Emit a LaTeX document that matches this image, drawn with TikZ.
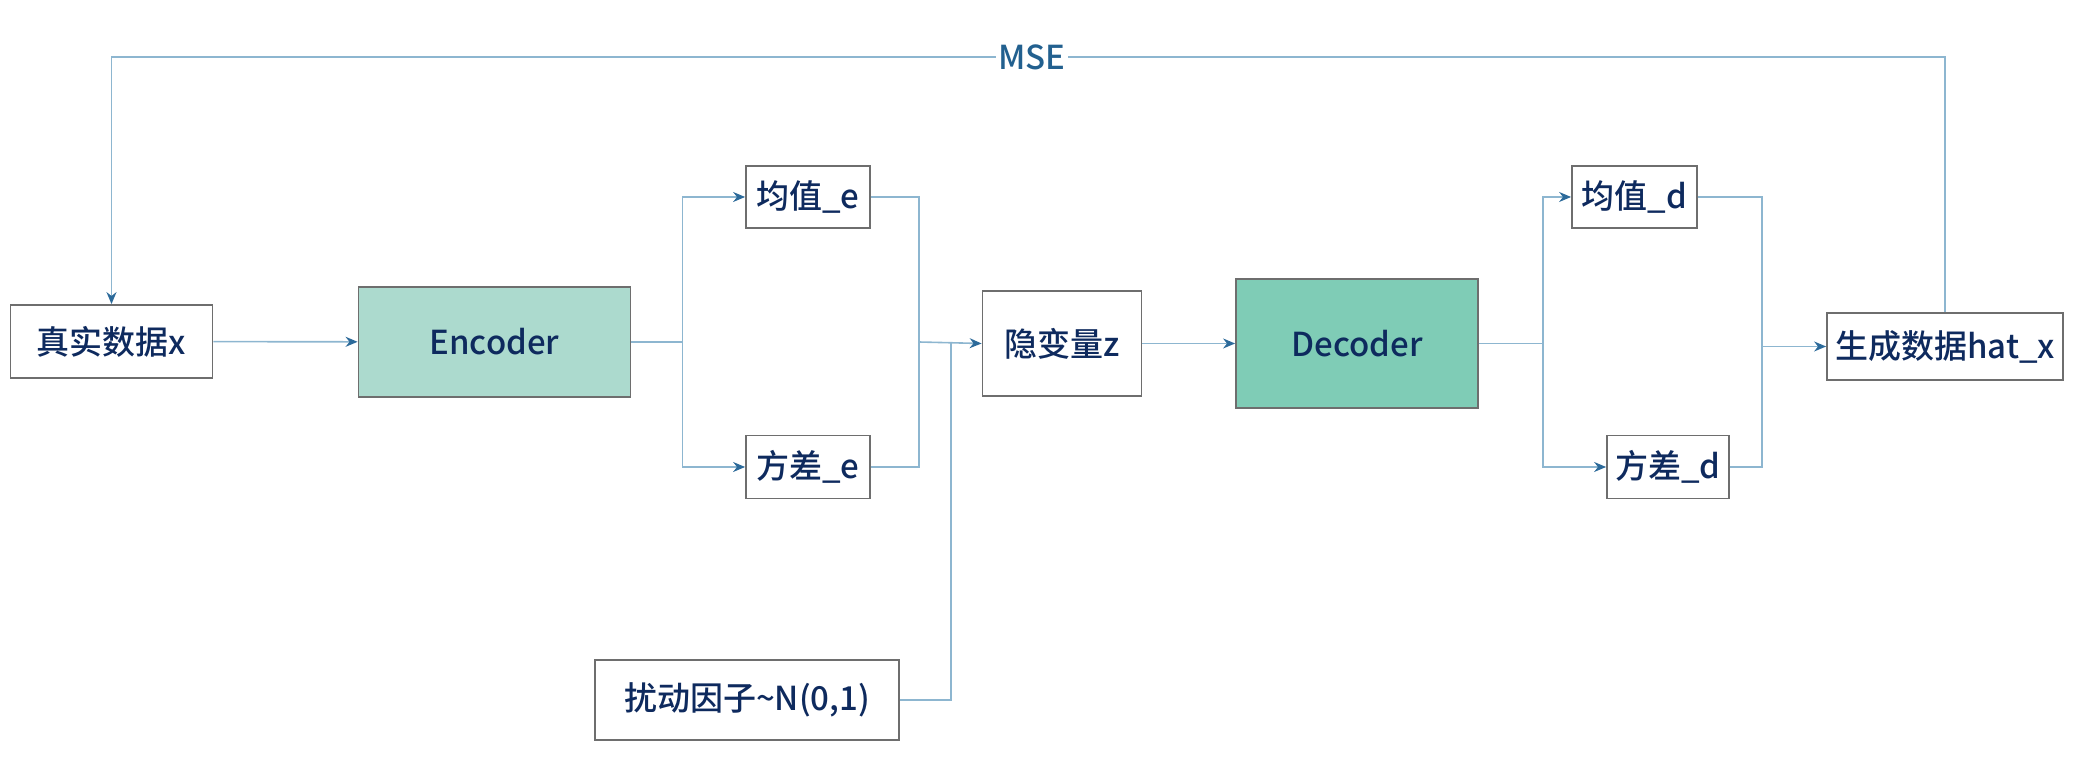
\documentclass[tikz,border=0pt]{standalone}
\usepackage{fontspec}
\setmainfont{Noto Sans CJK SC}[UprightFont=* Medium]
\usetikzlibrary{arrows.meta,positioning,calc}
\definecolor{LineBlue}{HTML}{8DB6D0}
\definecolor{TipBlue}{HTML}{2C6A9A}
\definecolor{TextNavy}{HTML}{0E2A5E}
\definecolor{LabelBlue}{HTML}{22608F}
\definecolor{BoxGray}{HTML}{6E6E6E}
\definecolor{EncFill}{HTML}{ACDACE}
\definecolor{DecFill}{HTML}{7FCCB6}
\tikzset{every node/.style={font=\fontsize{16.5}{19}\selectfont,text=TextNavy},
 box/.style={draw=BoxGray,line width=0.9pt,fill=white,inner sep=0pt,align=center},
 link/.style={draw=LineBlue,line width=0.8pt},
 arr/.style={link,-{Stealth[length=6pt,width=5pt,color=TipBlue]}}}
\begin{document}
\begin{tikzpicture}[x=0.5pt,y=-0.5pt]
\useasboundingbox (0,0) rectangle (2082,758);
% boxes
\node[box,minimum width=101pt,minimum height=36.5pt] (real) at (111.5,341.5) {真实数据x};
\node[box,fill=EncFill,minimum width=136pt,minimum height=55pt] (enc) at (494.5,342) {Encoder};
\node[box,minimum width=62pt,minimum height=31pt] (mue) at (808,197) {均值\_e};
\node[box,minimum width=62pt,minimum height=31.5pt] (vare) at (808,467) {方差\_e};
\node[box,minimum width=79.5pt,minimum height=52.5pt] (z) at (1062,343.5) {隐变量z};
\node[box,fill=DecFill,minimum width=121pt,minimum height=64.5pt] (dec) at (1357,343.5) {Decoder};
\node[box,minimum width=62.5pt,minimum height=31pt] (mud) at (1634.5,197) {均值\_d};
\node[box,minimum width=61pt,minimum height=31.5pt] (vard) at (1668,467) {方差\_d};
\node[box,minimum width=118pt,minimum height=33.5pt] (gen) at (1945,346.5) {生成数据hat\_x};
\node[box,minimum width=152pt,minimum height=40pt] (noise) at (747,700) {扰动因子\textasciitilde N(0,1)};
% joints
\coordinate (ebr) at (682.5,342);
\coordinate (emg) at (919,342);
\coordinate (nz) at (951,342);
\coordinate (dbr) at (1543,343.5);
\coordinate (dmg) at (1762,346.5);
\coordinate (top) at (0,57);
% encoder side
\draw[arr] (real) -- (enc);
\draw[link] (enc.east) -- (ebr);
\draw[arr] (ebr) |- (mue.west);
\draw[arr] (ebr) |- (vare.west);
\draw[link] (mue.east) -| (emg);
\draw[link] (vare.east) -| (emg);
\draw[arr] (emg) -- (z.west);
\draw[link] (noise.east) -| (nz);
% decoder side
\draw[arr] (z) -- (dec);
\draw[link] (dec.east) -- (dbr);
\draw[arr] (dbr) |- (mud.west);
\draw[arr] (dbr) |- (vard.west);
\draw[link] (mud.east) -| (dmg);
\draw[link] (vard.east) -| (dmg);
\draw[arr] (dmg) -- (gen.west);
% loss loop
\draw[arr] (gen.north) |- (top -| real.north) -- (real.north);
\node[fill=white,inner xsep=1pt,inner ysep=0pt,text=LabelBlue,font=\fontsize{16.5}{19}\selectfont] (mse) at (1032,57) {MSE};
\end{tikzpicture}
\end{document}
